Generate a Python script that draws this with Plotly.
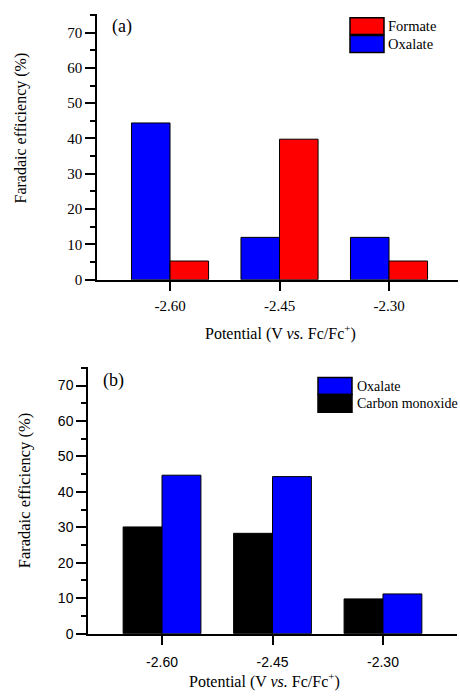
import plotly.graph_objects as go

# ---- data ----
potentials = ["-2.60", "-2.45", "-2.30"]
# panel (a)
oxalate_a = [44.4, 12.0, 12.0]
formate_a = [5.3, 39.8, 5.3]
# panel (b)
co_b = [30.1, 28.3, 9.8]
oxalate_b = [44.7, 44.3, 11.2]

y_ticks = [0, 10, 20, 30, 40, 50, 60, 70]

BLUE = "#0000FF"
RED = "#FF0000"
BLACK = "#000000"
SERIF = "Liberation Serif, Times New Roman, serif"
SANS = "Liberation Sans, Arial, sans-serif"

W, H = 460, 696
def px(x):
    return x / W
def py(y):
    return 1 - y / H

BW = 0.352

fig = go.Figure()
# panel (a)
fig.add_trace(go.Bar(x=potentials, y=oxalate_a, name="Oxalate", width=BW, offset=-BW,
                     marker=dict(color=BLUE, line=dict(color=BLACK, width=1)),
                     xaxis="x", yaxis="y", showlegend=False))
fig.add_trace(go.Bar(x=potentials, y=formate_a, name="Formate", width=BW, offset=0,
                     marker=dict(color=RED, line=dict(color=BLACK, width=1)),
                     xaxis="x", yaxis="y", showlegend=False))
# panel (b)
fig.add_trace(go.Bar(x=potentials, y=co_b, name="Carbon monoxide", width=BW, offset=-BW,
                     marker=dict(color=BLACK, line=dict(color=BLACK, width=1)),
                     xaxis="x2", yaxis="y2", showlegend=False))
fig.add_trace(go.Bar(x=potentials, y=oxalate_b, name="Oxalate", width=BW, offset=0,
                     marker=dict(color=BLUE, line=dict(color=BLACK, width=1)),
                     xaxis="x2", yaxis="y2", showlegend=False))

def xaxis(domain, rng, anchor, font, standoff):
    return dict(domain=domain, range=rng, type="category", anchor=anchor,
                showline=True, linecolor=BLACK, linewidth=1.5,
                ticks="outside", ticklen=10, tickwidth=1.5, tickcolor=BLACK,
                ticklabelstandoff=standoff,
                showgrid=False, zeroline=False, tickfont=font, fixedrange=True)

def yaxis(domain, anchor, font):
    return dict(domain=domain, range=[0, 75.3], anchor=anchor,
                showline=True, linecolor=BLACK, linewidth=1.5,
                ticks="outside", ticklen=10, tickwidth=1.5, tickcolor=BLACK,
                tickvals=y_ticks, showgrid=False, zeroline=False, tickfont=font,
                minor=dict(ticks="outside", ticklen=5, tickwidth=1.5, tickcolor=BLACK,
                           tick0=0, dtick=5, showgrid=False),
                fixedrange=True)

font_a = dict(family=SERIF, size=15, color=BLACK)
font_b = dict(family=SANS, size=14, color=BLACK)

fig.update_layout(
    width=W, height=H,
    margin=dict(l=0, r=0, t=0, b=0),
    paper_bgcolor="white", plot_bgcolor="white",
    barmode="overlay",
    xaxis=xaxis([px(97), px(458)], [-0.667, 2.63], "y", font_a, 2),
    yaxis=yaxis([py(283), py(14)], "x", font_a),
    xaxis2=xaxis([px(88), px(457)], [-0.67, 2.67], "y2", font_b, 5),
    yaxis2=yaxis([py(641), py(371)], "x2", font_b),
)

annotations = []
def ann(text, x, y, size, angle=0, family=SERIF, xanchor="center"):
    annotations.append(dict(text=text, x=px(x), y=py(y), xref="paper", yref="paper",
                            showarrow=False, textangle=angle, xanchor=xanchor, yanchor="middle",
                            font=dict(family=family, size=size, color=BLACK)))

ann("(a)", 122, 27, 18)
ann("(b)", 113, 385, 18)
ann("Faradaic efficiency (%)", 21, 130, 16, angle=-90)
ann("Faradaic efficiency (%)", 24, 497, 16.5, angle=-90)
ann("Potential (V <i>vs.</i> Fc/Fc<sup>+</sup>)", 280, 336, 16)
ann("Potential (V <i>vs.</i> Fc/Fc<sup>+</sup>)", 264, 688, 16)

shapes = []
def legend_item(x0, y0, x1, y1, color, label, tx, size):
    shapes.append(dict(type="rect", xref="paper", yref="paper",
                       x0=px(x0), x1=px(x1), y0=py(y1), y1=py(y0),
                       fillcolor=color, line=dict(color=BLACK, width=1.5)))
    ann(label, tx, (y0 + y1) / 2, size, xanchor="left")

legend_item(350, 18, 384, 35, RED, "Formate", 386, 14.5)
legend_item(350, 36, 384, 53, BLUE, "Oxalate", 386, 14.5)
legend_item(318, 382, 352, 399, BLUE, "Oxalate", 355, 14)
legend_item(318, 399, 352, 417, BLACK, "Carbon monoxide", 355, 14)

fig.update_layout(annotations=annotations, shapes=shapes)
fig.write_html("out.html")
